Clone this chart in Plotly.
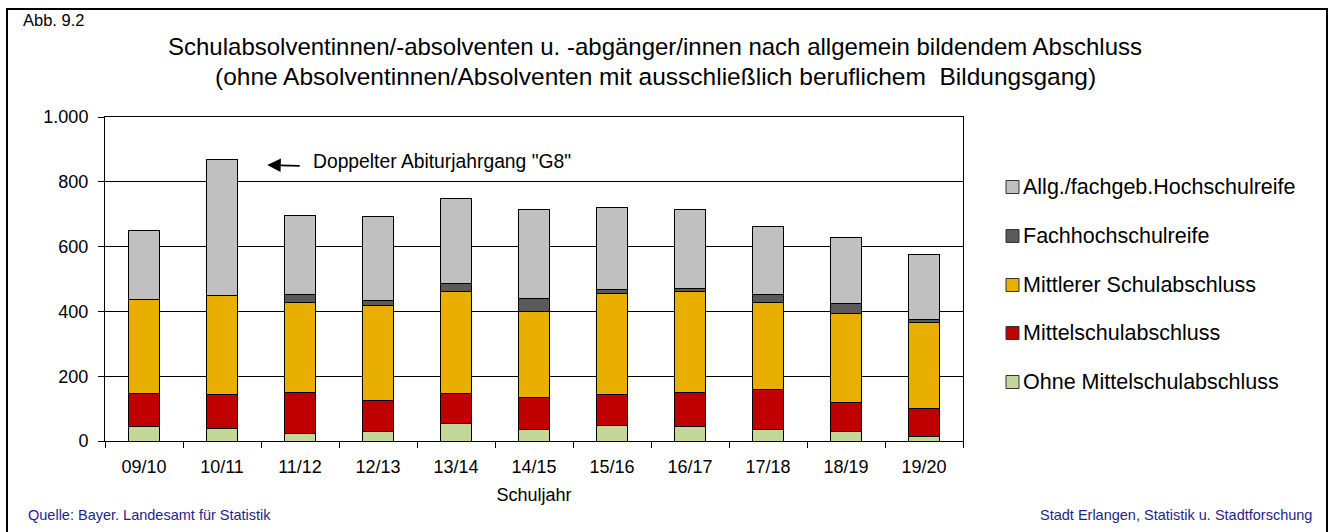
import plotly.graph_objects as go

# School years
years = ["09/10", "10/11", "11/12", "12/13", "13/14", "14/15",
         "15/16", "16/17", "17/18", "18/19", "19/20"]

# Leavers by type of general school certificate
ohne_mittelschul = [46, 39, 23, 29, 54, 34, 47, 45, 36, 30, 15]
mittelschul = [100, 105, 127, 97, 93, 99, 98, 106, 124, 89, 86]
mittlerer = [292, 304, 279, 292, 315, 266, 311, 311, 268, 275, 264]
fachhochschulreife = [0, 0, 23, 16, 24, 42, 13, 9, 25, 29, 11]
hochschulreife = [213, 422, 244, 259, 264, 273, 253, 244, 208, 205, 200]

y_ticks = [0, 200, 400, 600, 800, 1000]
y_tick_text = ["0", "200", "400", "600", "800", "1.000"]

FONT = "Liberation Sans, Arial, sans-serif"
W, H = 1335, 532
L, R, T, B = 105, 963, 117, 441  # plot area in pixels


def px(x):
    return (x - L) / (R - L)


def py(y):
    return (B - y) / (B - T)


series = [
    ("Ohne Mittelschulabschluss", ohne_mittelschul, "#C4D79B"),
    ("Mittelschulabschluss", mittelschul, "#C00000"),
    ("Mittlerer Schulabschluss", mittlerer, "#E8AE00"),
    ("Fachhochschulreife", fachhochschulreife, "#5A5A5A"),
    ("Allg./fachgeb.Hochschulreife", hochschulreife, "#C0C0C0"),
]

fig = go.Figure()
for name, vals, col in series:
    fig.add_trace(go.Bar(
        x=years, y=vals, name=name,
        marker=dict(color=col, line=dict(color="black", width=1)),
        showlegend=False,
    ))

fig.update_layout(
    barmode="stack",
    bargap=0.6,
    width=W, height=H,
    margin=dict(l=L, r=W - R, t=T, b=H - B, pad=0),
    paper_bgcolor="white",
    plot_bgcolor="white",
    font=dict(family=FONT, color="black", size=18),
)

fig.update_xaxes(
    type="category",
    showline=True, linecolor="black", linewidth=1, mirror=True,
    ticks="outside", tickson="boundaries", ticklen=6, tickcolor="black",
    showgrid=False,
    tickfont=dict(size=18),
    ticklabelstandoff=9,
    title=dict(text="Schuljahr", font=dict(size=18), standoff=12),
)
fig.update_yaxes(
    range=[0, 1000],
    tickvals=y_ticks, ticktext=y_tick_text,
    showline=True, linecolor="black", linewidth=1, mirror=True,
    ticks="outside", ticklen=6, tickcolor="black",
    showgrid=True, gridcolor="black", gridwidth=1,
    tickfont=dict(size=18),
    ticklabelstandoff=6,
    zeroline=False,
)

ann = []
# Title lines
ann.append(dict(text="Schulabsolventinnen/-absolventen u. -abgänger/innen nach allgemein bildendem Abschluss",
                xref="paper", yref="paper", x=px(655), y=py(47), showarrow=False,
                xanchor="center", yanchor="middle", font=dict(size=24)))
ann.append(dict(text="(ohne Absolventinnen/Absolventen mit ausschließlich beruflichem\u00a0 Bildungsgang)",
                xref="paper", yref="paper", x=px(655), y=py(77), showarrow=False,
                xanchor="center", yanchor="middle", font=dict(size=24.5)))
ann.append(dict(text="Abb. 9.2", xref="paper", yref="paper", x=px(21), y=py(20),
                showarrow=False, xanchor="left", yanchor="middle", font=dict(size=16.5)))
# Footer
ann.append(dict(text="Quelle: Bayer. Landesamt für Statistik", xref="paper", yref="paper",
                x=px(26), y=py(515), showarrow=False, xanchor="left", yanchor="middle",
                font=dict(size=14.5, color="#1F1F8C")))
ann.append(dict(text="Stadt Erlangen, Statistik u. Stadtforschung", xref="paper", yref="paper",
                x=px(1314), y=py(515), showarrow=False, xanchor="right", yanchor="middle",
                font=dict(size=14.5, color="#1F1F8C")))
# Note on the double Abitur cohort
ann.append(dict(text="", x=1.58, y=852, xref="x", yref="y", ax=34, ay=1,
                showarrow=True, arrowhead=2, arrowsize=1.5, arrowwidth=1.8,
                arrowcolor="black"))
ann.append(dict(text='Doppelter Abiturjahrgang "G8"', xref="paper", yref="paper",
                x=px(311), y=py(161), showarrow=False, xanchor="left", yanchor="middle",
                font=dict(size=19.3)))

shapes = []
# Legend, top row = top of the stack
legend_rows = [187, 236, 285, 333, 382]
for (name, _, col), yc in zip(reversed(series), legend_rows):
    shapes.append(dict(type="rect", xref="paper", yref="paper",
                       x0=px(1006), x1=px(1019), y0=py(yc + 6.5), y1=py(yc - 6.5),
                       fillcolor=col, line=dict(color="#333333", width=1)))
    ann.append(dict(text=name, xref="paper", yref="paper", x=px(1021), y=py(yc),
                    showarrow=False, xanchor="left", yanchor="middle",
                    font=dict(size=21.5)))

# Outer frame
shapes.append(dict(type="rect", xref="paper", yref="paper",
                   x0=px(7), x1=px(1327), y0=py(540), y1=py(9),
                   line=dict(color="black", width=2), fillcolor="rgba(0,0,0,0)"))

fig.update_layout(annotations=ann, shapes=shapes)

fig.write_html("out.html")
